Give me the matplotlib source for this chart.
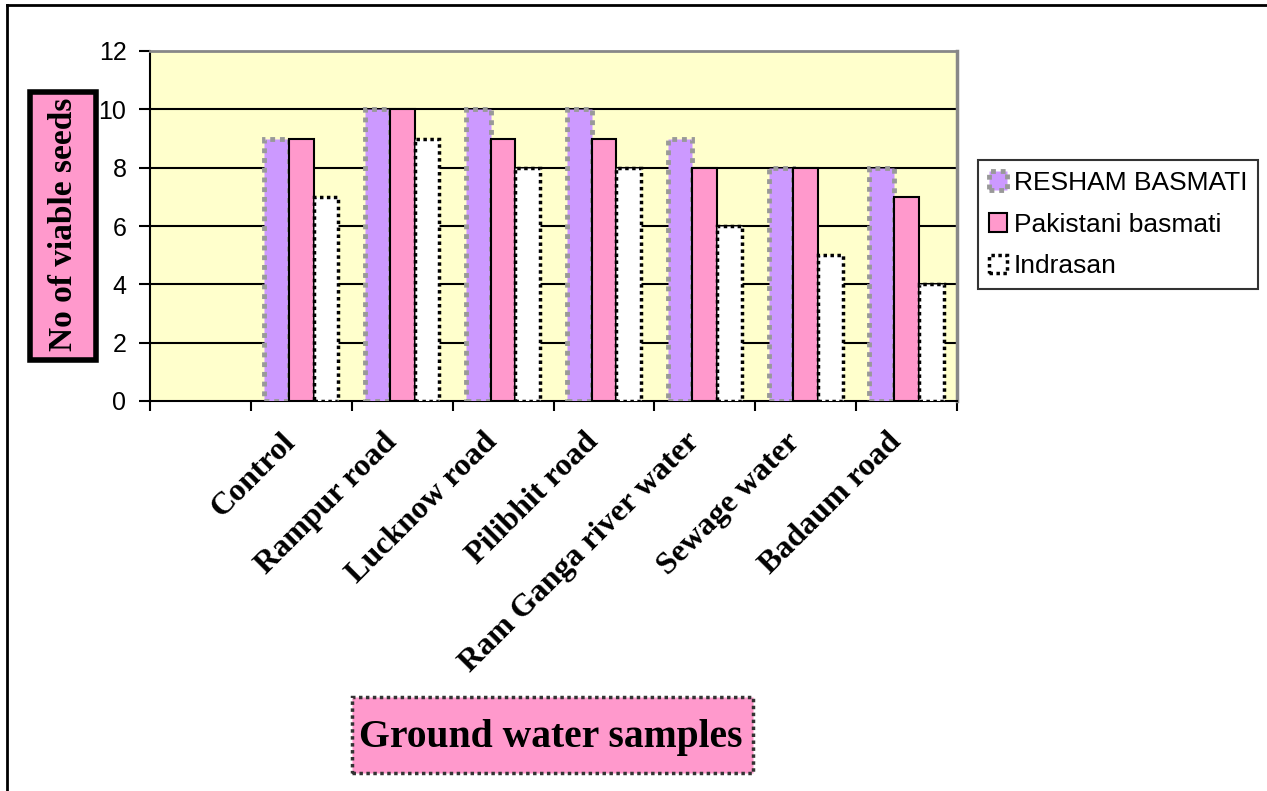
import numpy as np
import matplotlib.pyplot as plt
from matplotlib.patches import Rectangle
from matplotlib.lines import Line2D

# ======================================
# DATA
# ======================================

categories = ['', 'Control', 'Rampur road', 'Lucknow road', 'Pilibhit road',
              'Ram Ganga river water', 'Sewage water', 'Badaum road']
series_names = ['RESHAM BASMATI', 'Pakistani basmati', 'Indrasan']

# first category slot is empty in the original chart
resham = [np.nan, 9, 10, 10, 10, 9, 8, 8]
pakistani = [np.nan, 9, 10, 9, 9, 8, 8, 7]
indrasan = [np.nan, 7, 9, 8, 8, 6, 5, 4]

y_ticks = [0, 2, 4, 6, 8, 10, 12]

# ======================================
# FIGURE
# ======================================

W, H = 1267, 791
fig = plt.figure(figsize=(W / 100, H / 100), dpi=100)

def fx(px):
    return px / W

def fy(py):
    return 1 - py / H

ax = fig.add_axes([fx(150), fy(401), fx(957) - fx(150), fy(51) - fy(401)])
ax.set_facecolor('#FFFFCC')

x = np.arange(len(categories))
bw = 0.245
dots = (0, (1, 1))

ax.bar(x - bw, resham, bw, color='#CC99FF', edgecolor='#999999',
       linewidth=3.5, linestyle=dots, label=series_names[0], zorder=3)
ax.bar(x, pakistani, bw, color='#FF99CC', edgecolor='black',
       linewidth=1.5, label=series_names[1], zorder=3)
ax.bar(x + bw, indrasan, bw, color='white', edgecolor='black',
       linewidth=2.5, linestyle=dots, label=series_names[2], zorder=3)

ax.set_xlim(-0.5, len(categories) - 0.5)
ax.set_ylim(0, 12)
ax.set_yticks(y_ticks)
ax.set_yticklabels([str(v) for v in y_ticks], family='Liberation Sans', fontsize=18)
for v in y_ticks[1:-1]:
    ax.axhline(v, color='black', lw=1.5, zorder=1)

# category ticks sit on the slot boundaries, labels at slot centres
ax.set_xticks(np.arange(len(categories) + 1) - 0.5)
ax.set_xticklabels([])
ax.tick_params(axis='x', length=7, width=1.5, direction='out')
ax.tick_params(axis='y', length=8, width=1.5, direction='out', pad=9)
for i, name in enumerate(categories):
    ax.text(i - 0.2, -0.9, name, rotation=45, ha='right', va='top',
            rotation_mode='anchor', family='Liberation Serif',
            fontweight='bold', fontsize=23, transform=ax.transData)

ax.spines['left'].set_linewidth(1.5)
ax.spines['bottom'].set_linewidth(1.5)
ax.spines['top'].set_color('#888888')
ax.spines['top'].set_linewidth(2)
ax.spines['right'].set_color('#888888')
ax.spines['right'].set_linewidth(2.5)

# ======================================
# AXIS TITLE BOXES
# ======================================

fig.patches.append(Rectangle((fx(30), fy(360)), fx(96) - fx(30), fy(92) - fy(360),
                             transform=fig.transFigure, facecolor='#FF99CC',
                             edgecolor='black', linewidth=4))
fig.text(fx(64), fy(224), 'No of viable seeds', rotation=90, ha='center', va='center',
         family='Liberation Serif', fontweight='bold', fontsize=24)

fig.patches.append(Rectangle((fx(352), fy(773)), fx(753) - fx(352), fy(697) - fy(773),
                             transform=fig.transFigure, facecolor='#FF99CC',
                             edgecolor='#333333', linewidth=2.5, linestyle=dots))
fig.text(fx(551), fy(737), 'Ground water samples', ha='center', va='center',
         family='Liberation Serif', fontweight='bold', fontsize=28.5)

# outer chart border (left and top only are visible)
fig.add_artist(Line2D([fx(7), fx(7)], [0, fy(5)], transform=fig.transFigure,
                      color='black', lw=2))
fig.add_artist(Line2D([fx(7), 1], [fy(5), fy(5)], transform=fig.transFigure,
                      color='black', lw=2))

# ======================================
# LEGEND
# ======================================

leg = fig.legend(loc='upper left', bbox_to_anchor=(fx(978), fy(160)),
                 prop={'family': 'Liberation Sans', 'size': 19},
                 frameon=True, fancybox=False, edgecolor='black',
                 handlelength=0.7, handleheight=0.7, handletextpad=0.25,
                 borderpad=0.4, labelspacing=0.68, borderaxespad=0)
leg.get_frame().set_linewidth(1.5)

fig.savefig('out.png', dpi=100, facecolor='white')
